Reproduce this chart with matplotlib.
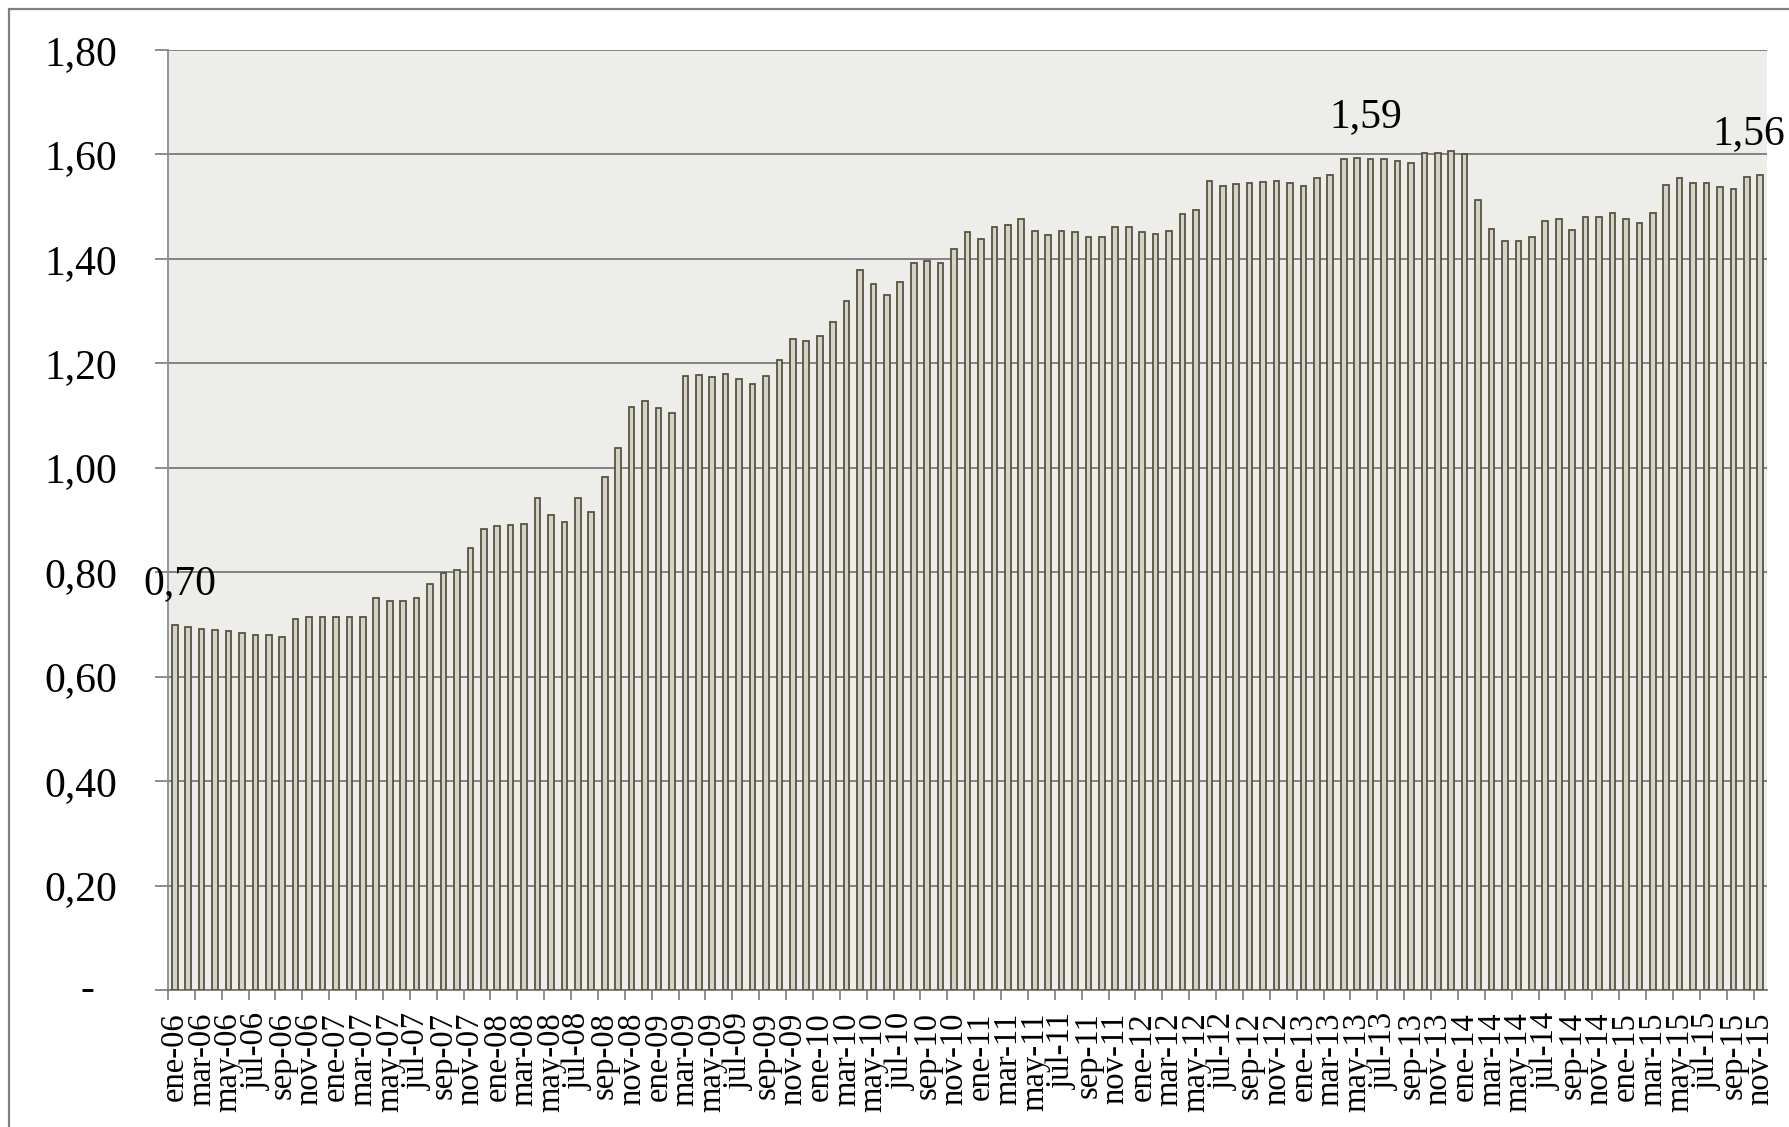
import matplotlib
matplotlib.use("Agg")
import matplotlib.pyplot as plt
from matplotlib.patches import Rectangle
import numpy as np

months_es = ["ene", "feb", "mar", "abr", "may", "jun", "jul", "ago", "sep", "oct", "nov", "dic"]
years = ["06", "07", "08", "09", "10", "11", "12", "13", "14", "15"]
categories = [f"{m}-{y}" for y in years for m in months_es][:119]  # ene-06 .. nov-15

values = [
    0.699, 0.696, 0.692, 0.690, 0.687, 0.683, 0.680, 0.680, 0.676, 0.710, 0.714, 0.714,
    0.714, 0.714, 0.714, 0.751, 0.744, 0.744, 0.750, 0.777, 0.798, 0.805, 0.846, 0.883,
    0.888, 0.891, 0.892, 0.943, 0.909, 0.896, 0.942, 0.916, 0.983, 1.037, 1.116, 1.128,
    1.114, 1.104, 1.175, 1.178, 1.174, 1.180, 1.170, 1.160, 1.176, 1.207, 1.247, 1.243,
    1.252, 1.280, 1.320, 1.379, 1.351, 1.330, 1.356, 1.392, 1.395, 1.393, 1.418, 1.452,
    1.439, 1.462, 1.464, 1.476, 1.454, 1.446, 1.453, 1.452, 1.441, 1.442, 1.461, 1.462,
    1.451, 1.448, 1.454, 1.485, 1.494, 1.549, 1.540, 1.544, 1.546, 1.548, 1.550, 1.545,
    1.540, 1.554, 1.561, 1.592, 1.594, 1.592, 1.591, 1.588, 1.583, 1.602, 1.603, 1.607,
    1.600, 1.512, 1.457, 1.434, 1.435, 1.441, 1.473, 1.477, 1.456, 1.480, 1.480, 1.488,
    1.476, 1.468, 1.487, 1.542, 1.555, 1.546, 1.546, 1.537, 1.534, 1.557, 1.561,
]

y_ticks = [0.0, 0.2, 0.4, 0.6, 0.8, 1.0, 1.2, 1.4, 1.6, 1.8]
y_ticklabels = ["", "0,20", "0,40", "0,60", "0,80", "1,00", "1,20", "1,40", "1,60", "1,80"]

labelled_points = [0, 88, 118]
labelled_text = ["0,70", "1,59", "1,56"]

W, H = 1789, 1127
plt.rcParams["font.family"] = ["Liberation Serif", "DejaVu Serif"]
fig = plt.figure(figsize=(W / 100, H / 100), dpi=100)
fig.patch.set_facecolor("white")

left, right, top, bottom = 168, 1767, 50, 990
ax = fig.add_axes([left / W, 1 - bottom / H, (right - left) / W, (bottom - top) / H])
ax.set_facecolor("#ededea")

x = np.arange(len(categories))
ax.bar(x, values, width=0.42, color="#d5d2c9", edgecolor="#58543f", linewidth=1.3, zorder=3)

ax.set_xlim(-0.5, len(categories) - 0.5)
ax.set_ylim(0, 1.8)

grid_c = "#7a7a7a"
ax.set_yticks(y_ticks)
ax.set_yticklabels(y_ticklabels)
ax.yaxis.grid(True, color=grid_c, linewidth=1.3, zorder=1)
ax.set_axisbelow(True)
ax.tick_params(axis="y", length=9.5, width=1.2, color=grid_c, labelsize=30, pad=27)

ax.set_xticks(x[::2])
ax.set_xticklabels(categories[::2], rotation=90)
ax.set_xticks(np.arange(-0.5, len(categories) - 1, 2), minor=True)
ax.tick_params(axis="x", which="major", length=0, labelsize=23.5, pad=16)
ax.tick_params(axis="x", which="minor", length=7.5, width=1.2, color=grid_c)

for s in ["top", "right"]:
    ax.spines[s].set_visible(False)
ax.spines["left"].set_color("#8c8c8c")
ax.spines["left"].set_linewidth(1.3)
ax.spines["bottom"].set_color(grid_c)
ax.spines["bottom"].set_linewidth(1.3)

# zero label shown as dash
ax.annotate("-", xy=(0, 0), xycoords=("axes fraction", "data"),
            xytext=(-58, 0), textcoords="offset points",
            ha="center", va="center", fontsize=30)

offsets_x = [4, 6, -8]
for i, t, dx in zip(labelled_points, labelled_text, offsets_x):
    ax.annotate(t, xy=(x[i], values[i]), xytext=(dx, 29.5), textcoords="offset points",
                ha="center", va="center", fontsize=30, zorder=5, annotation_clip=False)

fig.patches.append(Rectangle((9 / W, -0.1), 2, 1 - 9 / H + 0.1, transform=fig.transFigure,
                             fill=False, edgecolor="#808080", linewidth=1.6))

fig.savefig("out.png", dpi=100)
